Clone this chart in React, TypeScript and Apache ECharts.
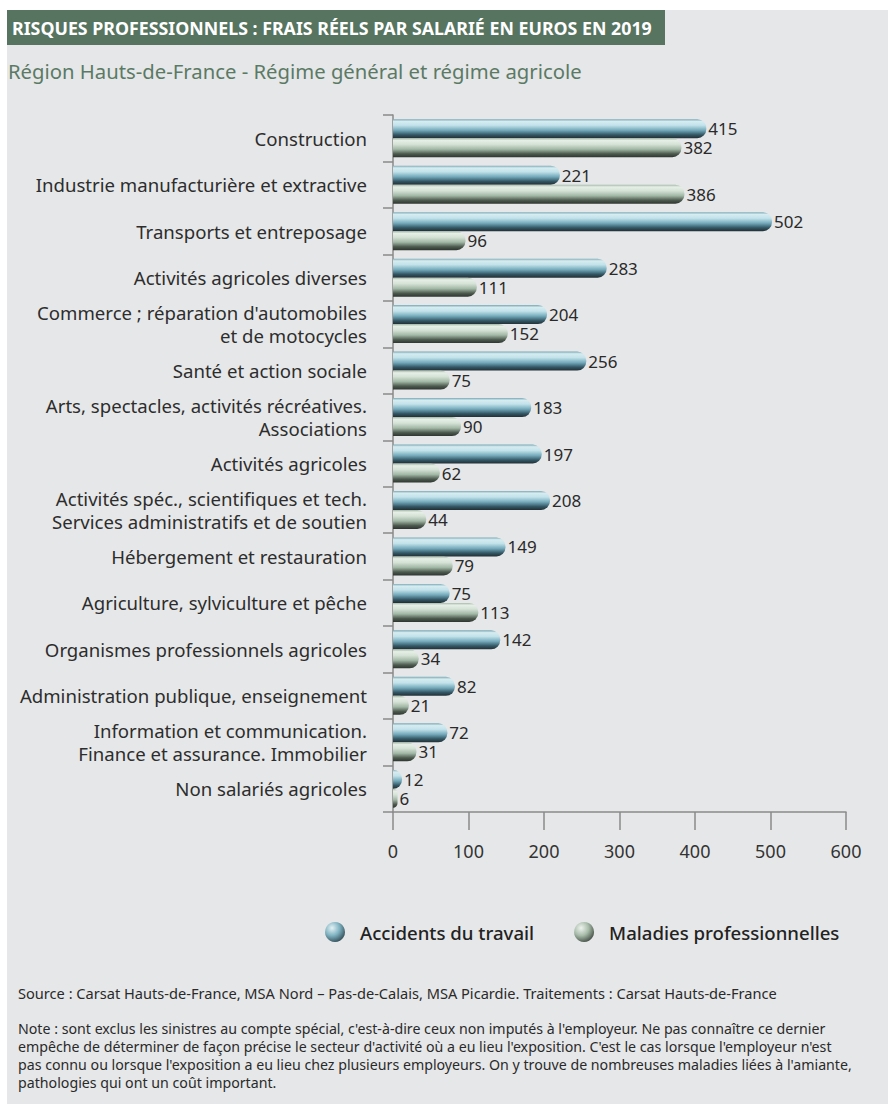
import React, { useEffect, useRef } from "react";
import * as echarts from "echarts";

const categories = [
  "Construction",
  "Industrie manufacturière et extractive",
  "Transports et entreposage",
  "Activités agricoles diverses",
  "Commerce ; réparation d'automobiles\net de motocycles",
  "Santé et action sociale",
  "Arts, spectacles, activités récréatives.\nAssociations",
  "Activités agricoles",
  "Activités spéc., scientifiques et tech.\nServices administratifs et de soutien",
  "Hébergement et restauration",
  "Agriculture, sylviculture et pêche",
  "Organismes professionnels agricoles",
  "Administration publique, enseignement",
  "Information et communication.\nFinance et assurance. Immobilier",
  "Non salariés agricoles",
];

const accidents = [415, 221, 502, 283, 204, 256, 183, 197, 208, 149, 75, 142, 82, 72, 12];
const maladies = [382, 386, 96, 111, 152, 75, 90, 62, 44, 79, 113, 34, 21, 31, 6];

const seriesNames = ["Accidents du travail", "Maladies professionnelles"];

const titleText = "RISQUES PROFESSIONNELS : FRAIS RÉELS PAR SALARIÉ EN EUROS EN 2019";
const subtitleText = "Région Hauts-de-France - Régime général et régime agricole";
const sourceText =
  "Source : Carsat Hauts-de-France, MSA Nord – Pas-de-Calais, MSA Picardie. Traitements : Carsat Hauts-de-France";
const noteLines = [
  "Note : sont exclus les sinistres au compte spécial, c'est-à-dire ceux non imputés à l'employeur. Ne pas connaître ce dernier",
  "empêche de déterminer de façon précise le secteur d'activité où a eu lieu l'exposition. C'est le cas lorsque l'employeur n'est",
  "pas connu ou lorsque l'exposition a eu lieu chez plusieurs employeurs. On y trouve de nombreuses maladies liées à l'amiante,",
  "pathologies qui ont un coût important.",
];

const FONT = "'Noto Sans', Roboto, 'DejaVu Sans', sans-serif";

export default function App() {
  const ref = useRef<HTMLDivElement>(null);

  useEffect(() => {
    if (!ref.current) return;
    const chart = echarts.init(ref.current, null, { renderer: "svg" });

    const blueGrad = new echarts.graphic.LinearGradient(0, 0, 0, 1, [
      { offset: 0, color: "#7aa9b7" },
      { offset: 0.12, color: "#d6ecf0" },
      { offset: 0.32, color: "#c2e2ea" },
      { offset: 0.58, color: "#74aabb" },
      { offset: 0.82, color: "#335765" },
      { offset: 1, color: "#222f35" },
    ]);
    const greenGrad = new echarts.graphic.LinearGradient(0, 0, 0, 1, [
      { offset: 0, color: "#a4b8a7" },
      { offset: 0.12, color: "#e6efe6" },
      { offset: 0.32, color: "#d5e2d6" },
      { offset: 0.58, color: "#a2b8a6" },
      { offset: 0.82, color: "#4c5a4e" },
      { offset: 1, color: "#2e3530" },
    ]);
    const blueBall = new echarts.graphic.RadialGradient(0.35, 0.3, 0.85, [
      { offset: 0, color: "#e4f2f5" },
      { offset: 0.45, color: "#7fb2c1" },
      { offset: 1, color: "#1f343d" },
    ]);
    const greenBall = new echarts.graphic.RadialGradient(0.35, 0.3, 0.85, [
      { offset: 0, color: "#eef4ee" },
      { offset: 0.45, color: "#a7bba9" },
      { offset: 1, color: "#2b342d" },
    ]);

    const labelStyle = {
      show: true,
      position: "right" as const,
      distance: 2,
      fontFamily: FONT,
      fontSize: 17,
      color: "#2a2a2a",
    };

    const noteGraphics = noteLines.map((line, i) => ({
      type: "text",
      x: 18,
      y: 1028 + i * 18,
      style: {
        text: line,
        fontFamily: FONT,
        fontSize: 14.2,
        fill: "#2a2a2a",
        verticalAlign: "middle",
      },
    }));

    chart.setOption({
      animation: false,
      textStyle: { fontFamily: FONT },
      graphic: [
        { type: "rect", z: -10, shape: { x: 7, y: 10, width: 881, height: 1094 }, style: { fill: "#e6e7e8" } },
        { type: "rect", z: -5, shape: { x: 7, y: 10, width: 658, height: 35 }, style: { fill: "#567460" } },
        {
          type: "text",
          x: 12,
          y: 28,
          style: {
            text: titleText,
            fontFamily: FONT,
            fontSize: 17.8,
            fontWeight: "bold",
            fill: "#ffffff",
            verticalAlign: "middle",
          },
        },
        {
          type: "text",
          x: 8,
          y: 71,
          style: {
            text: subtitleText,
            fontFamily: FONT,
            fontSize: 20.3,
            fill: "#5b7a65",
            verticalAlign: "middle",
          },
        },
        {
          type: "text",
          x: 18,
          y: 993,
          style: { text: sourceText, fontFamily: FONT, fontSize: 14.6, fill: "#2a2a2a", verticalAlign: "middle" },
        },
        ...noteGraphics,
      ],
      legend: {
        left: 320,
        top: 917,
        itemWidth: 20,
        itemHeight: 20,
        itemGap: 40,
        icon: "circle",
        textStyle: { fontFamily: FONT, fontSize: 18.6, color: "#222", fontWeight: 500, padding: [0, 0, 0, 10] },
        data: [
          { name: seriesNames[0], itemStyle: { color: blueBall } },
          { name: seriesNames[1], itemStyle: { color: greenBall } },
        ],
      },
      grid: { left: 393, right: 42, top: 115, bottom: 292, containLabel: false },
      xAxis: {
        type: "value",
        min: 0,
        max: 600,
        interval: 100,
        splitLine: { show: false },
        axisLine: { show: true, lineStyle: { color: "#8a8a8a", width: 1.5 } },
        axisTick: { show: true, length: 18, lineStyle: { color: "#8a8a8a", width: 1.5 } },
        axisLabel: { fontFamily: FONT, fontSize: 18, color: "#333", margin: 30 },
      },
      yAxis: {
        type: "category",
        inverse: true,
        data: categories,
        axisLine: { show: true, lineStyle: { color: "#8a8a8a", width: 1.5 } },
        axisTick: { show: true, length: 10, lineStyle: { color: "#8a8a8a", width: 1.5 } },
        axisLabel: { fontFamily: FONT, fontSize: 18.6, color: "#2d2d2d", margin: 26, lineHeight: 23, align: "right" },
      },
      series: [
        {
          name: seriesNames[0],
          type: "bar",
          data: accidents,
          barWidth: 19,
          barGap: "0%",
          itemStyle: { color: blueGrad, borderRadius: [0, 9, 9, 0] },
          label: labelStyle,
        },
        {
          name: seriesNames[1],
          type: "bar",
          data: maladies,
          barWidth: 19,
          barGap: "0%",
          itemStyle: { color: greenGrad, borderRadius: [0, 9, 9, 0] },
          label: labelStyle,
        },
      ],
    });

    return () => chart.dispose();
  }, []);

  return (
    <div
      ref={ref}
      style={{ position: "absolute", left: 0, top: 0, width: 888, height: 1104, background: "#ffffff" }}
    />
  );
}
